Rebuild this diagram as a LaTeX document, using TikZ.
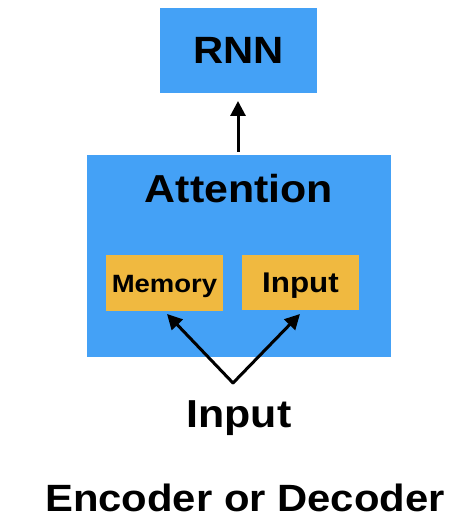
\documentclass[tikz,border=0pt]{standalone}
\usepackage{fontspec}
\setmainfont{Liberation Sans}[FakeStretch=1.1]
\usetikzlibrary{arrows.meta}
\definecolor{boxblue}{RGB}{68,161,246}
\definecolor{boxorange}{RGB}{240,185,64}
\begin{document}
\begin{tikzpicture}[x=1pt,y=-1pt,
  bluebox/.style={fill=boxblue,draw=none,inner sep=0pt},
  orbox/.style={fill=boxorange,draw=none,inner sep=0pt},
  arr/.style={line width=3pt,-{Triangle[length=15pt,width=15pt]}},
  lbl/.style={inner sep=0pt,anchor=base}]
\useasboundingbox (0,0) rectangle (464,518);
\node[bluebox,minimum width=157pt,minimum height=85pt] (rnn) at (238.5,50.5) {};
\node[lbl,font=\fontsize{38}{38}\bfseries] at (238.5,64) {RNN};
\node[bluebox,minimum width=304pt,minimum height=202pt] (att) at (239,256) {};
\node[lbl,font=\fontsize{39}{39}\bfseries] (attl) at (239,203) {Attention};
\node[orbox,minimum width=117pt,minimum height=56pt] (mem) at (164.5,283) {};
\node[lbl,font=\fontsize{25}{25}\bfseries] at (164.5,292) {Memory};
\node[orbox,minimum width=117pt,minimum height=55pt] (inp) at (300.5,282.5) {};
\node[lbl,font=\fontsize{28.5}{28.5}\bfseries] at (300.5,292) {Input};
\node[lbl,font=\fontsize{39}{39}\bfseries] (inl) at (239,427) {Input};
\node[lbl,font=\fontsize{38}{38}\bfseries] (enc) at (245,511) {Encoder or Decoder};
\coordinate (split) at (233,383);
\coordinate (memtip) at (167,314);
\coordinate (inptip) at (300,314);
\coordinate (arrbot) at (238,152);
\draw[arr] (arrbot) -- (238,101);
\draw[arr,line cap=round] (split) -- (memtip);
\draw[arr,line cap=round] (split) -- (inptip);
\end{tikzpicture}
\end{document}
